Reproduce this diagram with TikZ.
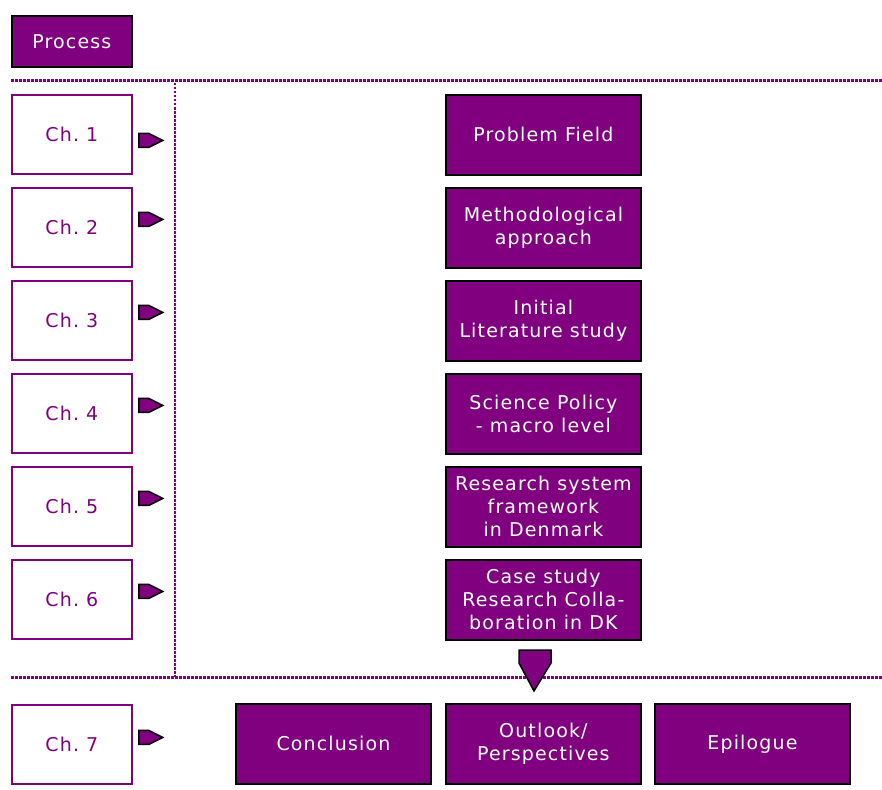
\documentclass[tikz,border=0pt]{standalone}
\usepackage{fontspec}
\setmainfont{DejaVu Sans}[LetterSpace=6]
\definecolor{purp}{HTML}{800080}
\begin{document}
\begin{tikzpicture}[x=1pt,y=-1pt,
  txt/.style={font=\fontsize{19}{23}\selectfont},
  pbox/.style={draw=black,fill=purp,line width=1.8pt,minimum width=195pt,minimum height=80pt,inner sep=0pt,text=white,align=center,txt,anchor=north west},
  chbox/.style={draw=purp,fill=white,line width=1.8pt,minimum width=120pt,minimum height=79pt,inner sep=0pt,text=purp,txt,anchor=north west},
  sep/.style={draw=purp,line width=3pt,dash pattern=on 2.5pt off 1.5pt},
  marker/.style={draw=black,fill=purp,line width=1.5pt,line join=miter}]
\useasboundingbox (0,0) rectangle (882,789);
\node[draw=black,fill=purp,line width=1.8pt,minimum width=120pt,minimum height=51pt,inner sep=0pt,text=white,txt,anchor=north west] (proc) at (11,15) {Process};
\coordinate (hl1a) at (11,81);
\coordinate (hl1b) at (882,81);
\coordinate (vla) at (175,83);
\coordinate (vlb) at (175,677);
\coordinate (hl2a) at (11,677);
\coordinate (hl2b) at (882,677);
\draw[sep] (hl1a) -- (hl1b);
\draw[sep,line width=2.2pt] (vla) -- (vlb);
\draw[sep] (hl2a) -- (hl2b);
\node[chbox] (c1) at (11,94) {Ch.\ 1};
\node[chbox] (c2) at (11,187) {Ch.\ 2};
\node[chbox] (c3) at (11,280) {Ch.\ 3};
\node[chbox] (c4) at (11,373) {Ch.\ 4};
\node[chbox] (c5) at (11,466) {Ch.\ 5};
\node[chbox] (c6) at (11,559) {Ch.\ 6};
\node[chbox] (c7) at (11,704) {Ch.\ 7};
\node[pbox] (p1) at (445,94) {Problem Field};
\node[pbox] (p2) at (445,187) {Methodological\\approach};
\node[pbox] (p3) at (445,280) {Initial\\Literature study};
\node[pbox] (p4) at (445,373) {Science Policy\\ - macro level};
\node[pbox] (p5) at (445,466) {Research system\\framework\\in Denmark};
\node[pbox] (p6) at (445,559) {Case study\\Research Colla-\\boration in DK};
\node[pbox] (q1) at (235,703) {Conclusion};
\node[pbox] (q2) at (445,703) {Outlook/\\Perspectives};
\node[pbox] (q3) at (654,703) {Epilogue};
\foreach \c/\dy in {c1/6,c2/-8,c3/-8,c4/-8,c5/-8,c6/-8,c7/-7}{
  \draw[marker] ([shift={(6,\dy-7)}]\c.east) -- ++(10,0) -- ++(14,7) -- ++(-14,7) -- ++(-10,0) -- cycle;
}
\coordinate (dn) at (519,650);
\draw[marker] (dn) -- ++(32,0) -- ++(0,13) -- ++(-17,28) -- ++(-15,-28) -- cycle;
\end{tikzpicture}
\end{document}
